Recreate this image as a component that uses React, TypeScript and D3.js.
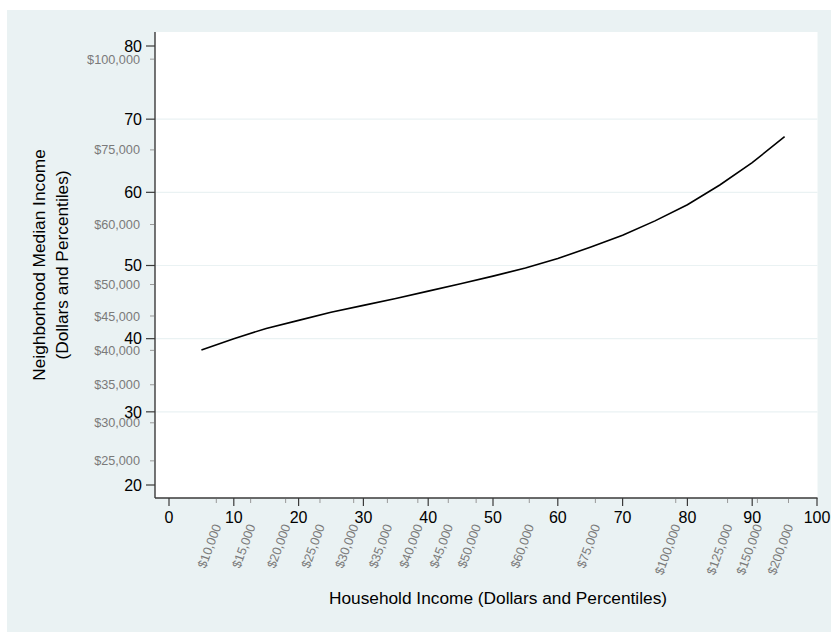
import React from "react";
import * as d3 from "d3";

// Line data: household income percentile -> neighborhood median income percentile
const xPct = [5, 10, 15, 20, 25, 30, 35, 40, 45, 50, 55, 60, 65, 70, 75, 80, 85, 90, 95];
const yPct = [38.45, 40.0, 41.4, 42.5, 43.6, 44.55, 45.5, 46.5, 47.5, 48.55, 49.65, 50.95, 52.5, 54.15, 56.1, 58.3, 61.0, 64.05, 67.6];

// Dollar equivalents for secondary ticks (dollar value -> percentile)
const dollarValues = [10000, 15000, 20000, 25000, 30000, 35000, 40000, 45000, 50000, 60000, 75000, 100000, 125000, 150000, 200000];
const dollarPct = [7.3, 12.6, 18.0, 23.3, 28.5, 33.7, 38.4, 43.1, 47.4, 55.6, 65.8, 78.2, 86.2, 90.8, 95.6];

const xTicks = [0, 10, 20, 30, 40, 50, 60, 70, 80, 90, 100];
const yTicks = [20, 30, 40, 50, 60, 70, 80];
const yGrid = [30, 40, 50, 60, 70];

const xTitle = "Household Income (Dollars and Percentiles)";
const yTitle1 = "Neighborhood Median Income";
const yTitle2 = "(Dollars and Percentiles)";

export default function App() {
  const W = 831, H = 632;
  const left = 155, right = 817.5, top = 32, bottom = 498;
  const x = d3.scaleLinear().domain([0, 100]).range([169, 817]);
  const y = d3.scaleLinear().domain([20, 80]).range([485, 46]);
  const fmt = d3.format("$,");
  const font = "'Liberation Sans', Arial, Helvetica, sans-serif";
  const line = d3.line<number>().x((_, i) => x(xPct[i])).y((d) => y(d));
  const yDollars = dollarValues.map((v, i) => ({ v, p: dollarPct[i] })).filter((d) => d.p >= 20 && d.p <= 80);
  const xDollars = dollarValues.map((v, i) => ({ v, p: dollarPct[i] }));
  const axisColor = "#3a3a3a";
  const gray = "#7a7a7a";

  return (
    <svg width={W} height={H} style={{ position: "absolute", left: 0, top: 0 }} fontFamily={font}>
      <rect x={0} y={0} width={W} height={H} fill="#ffffff" />
      <rect x={7} y={10} width={W - 7} height={H - 10} fill="#eaf2f3" />
      <rect x={left} y={top} width={right - left} height={bottom - top} fill="#ffffff" />
      {yGrid.map((t) => (
        <line key={"g" + t} x1={left} x2={right} y1={y(t)} y2={y(t)} stroke="#eaf2f3" strokeWidth={1.2} />
      ))}
      <path d={line(yPct) || ""} fill="none" stroke="#000" strokeWidth={1.6} />
      {/* Y axis */}
      <line x1={left} x2={left} y1={top} y2={bottom} stroke={axisColor} strokeWidth={1.4} />
      {yTicks.map((t) => (
        <g key={"yt" + t}>
          <line x1={left - 9} x2={left} y1={y(t)} y2={y(t)} stroke={axisColor} strokeWidth={1.2} />
          <text x={left - 13} y={y(t)} dy="0.36em" textAnchor="end" fontSize={16} fill="#000">{t}</text>
        </g>
      ))}
      {yDollars.map((d) => (
        <g key={"yd" + d.v}>
          <line x1={left - 5} x2={left - 1} y1={y(d.p)} y2={y(d.p)} stroke="#999" strokeWidth={1} />
          <text x={left - 15} y={y(d.p)} dy="0.36em" textAnchor="end" fontSize={12.7} fill={gray}>{fmt(d.v)}</text>
        </g>
      ))}
      {/* X axis */}
      <line x1={left} x2={right} y1={bottom} y2={bottom} stroke={axisColor} strokeWidth={1.4} />
      {xTicks.map((t) => (
        <g key={"xt" + t}>
          <line x1={x(t)} x2={x(t)} y1={bottom} y2={bottom + 8} stroke={axisColor} strokeWidth={1.2} />
          <text x={x(t)} y={bottom + 25} textAnchor="middle" fontSize={16} fill="#000">{t}</text>
        </g>
      ))}
      {xDollars.map((d) => (
        <g key={"xd" + d.v}>
          <line x1={x(d.p)} x2={x(d.p)} y1={bottom + 1} y2={bottom + 5} stroke="#999" strokeWidth={1} />
          <text
            transform={`translate(${x(d.p) + 5},${bottom + 28}) rotate(-70)`}
            textAnchor="end"
            fontSize={12.7}
            fill={gray}
          >
            {fmt(d.v)}
          </text>
        </g>
      ))}
      <text x={498} y={604} textAnchor="middle" fontSize={17.3} fill="#000">{xTitle}</text>
      <g transform={`translate(45, ${(top + bottom) / 2}) rotate(-90)`}>
        <text x={0} y={0} textAnchor="middle" fontSize={17.3} fill="#000">{yTitle1}</text>
        <text x={0} y={22.7} textAnchor="middle" fontSize={17.3} fill="#000">{yTitle2}</text>
      </g>
    </svg>
  );
}
